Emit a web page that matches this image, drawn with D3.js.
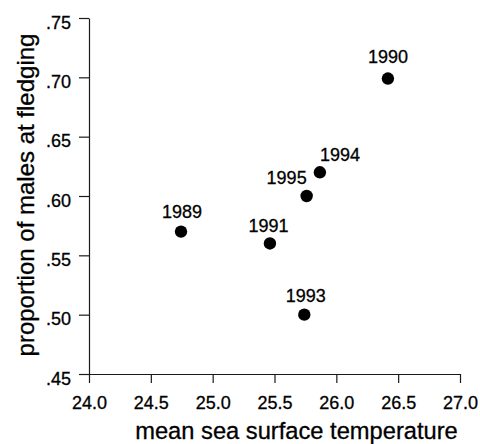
<!DOCTYPE html>
<html>
<head>
<meta charset="utf-8">
<script src="https://cdn.jsdelivr.net/npm/d3@7"></script>
<style>
  html, body { margin: 0; padding: 0; background: #fff; }
  svg { display: block; font-family: Arial, "Liberation Sans", Helvetica, sans-serif; }
</style>
</head>
<body>
<svg id="chart" width="480" height="444"></svg>
<script>
// ---- data ----
const years = ["1989", "1990", "1991", "1993", "1994", "1995"];
const sst = [24.744, 26.417, 25.463, 25.741, 25.867, 25.76];
const propMales = [0.57, 0.699, 0.56, 0.50, 0.62, 0.60];
const xTicks = [24.0, 24.5, 25.0, 25.5, 26.0, 26.5, 27.0];
const yTicks = [0.45, 0.50, 0.55, 0.60, 0.65, 0.70, 0.75];
const xTitle = "mean sea surface temperature";
const yTitle = "proportion of males at fledging";

// ---- label layout (per point: anchor, dx, dy) ----
const labelLayout = [
  ["middle", 1, -13.4],
  ["middle", 0, -16],
  ["middle", -1.5, -11.6],
  ["middle", 1.5, -12.3],
  ["start", 0, -11.6],
  ["end", 0, -11.7]
];

const svg = d3.select("#chart");
const mLeft = 89, mRight = 460, mTop = 18, mBottom = 374;

const x = d3.scaleLinear().domain([24, 27]).range([mLeft, mRight]);
const y = d3.scaleLinear().domain([0.45, 0.75]).range([mBottom, mTop]);

const ink = "#1a1a1a";
const fontFam = "Arial, 'Liberation Sans', sans-serif";

// x axis
const xAxis = svg.append("g")
  .attr("transform", `translate(0,${mBottom})`)
  .call(d3.axisBottom(x).tickValues(xTicks).tickFormat(d3.format(".1f")).tickSize(9).tickSizeOuter(0).tickPadding(13.5));
xAxis.select(".domain").attr("stroke", ink).attr("stroke-width", 1.2);
xAxis.selectAll(".tick line").attr("stroke", ink).attr("stroke-width", 1.2);
xAxis.selectAll(".tick text").attr("font-size", 18).attr("fill", "#000")
  .attr("font-family", fontFam).attr("stroke", "#000").attr("stroke-width", 0.3);

// y axis
const yAxis = svg.append("g")
  .attr("transform", `translate(${mLeft},0)`)
  .call(d3.axisLeft(y).tickValues(yTicks).tickFormat(d => d3.format(".2f")(d).replace(/^0/, "")).tickSize(10).tickSizeOuter(0).tickPadding(8));
yAxis.select(".domain").attr("stroke", ink).attr("stroke-width", 1.2);
yAxis.selectAll(".tick line").attr("stroke", ink).attr("stroke-width", 1.2);
yAxis.selectAll(".tick text").attr("font-size", 18).attr("fill", "#000")
  .attr("font-family", fontFam).attr("dy", "10px")
  .attr("stroke", "#000").attr("stroke-width", 0.3);

// axis titles
svg.append("text")
  .attr("x", 296.5)
  .attr("y", 438.5)
  .attr("text-anchor", "middle")
  .attr("font-size", 23.7)
  .attr("fill", "#000")
  .attr("stroke", "#000").attr("stroke-width", 0.3)
  .text(xTitle);

svg.append("text")
  .attr("transform", "translate(34,195) rotate(-90)")
  .attr("text-anchor", "middle")
  .attr("font-size", 24)
  .attr("fill", "#000")
  .attr("stroke", "#000").attr("stroke-width", 0.3)
  .text(yTitle);

// points
const pts = years.map((yr, i) => ({ yr, sx: sst[i], p: propMales[i], lay: labelLayout[i] }));

svg.append("g").selectAll("circle")
  .data(pts).join("circle")
  .attr("cx", d => x(d.sx))
  .attr("cy", d => y(d.p))
  .attr("r", 6.2)
  .attr("fill", "#000");

svg.append("g").selectAll("text")
  .data(pts).join("text")
  .attr("x", d => x(d.sx) + d.lay[1])
  .attr("y", d => y(d.p) + d.lay[2])
  .attr("text-anchor", d => d.lay[0])
  .attr("font-size", 18)
  .attr("font-family", fontFam)
  .attr("fill", "#000")
  .attr("stroke", "#000").attr("stroke-width", 0.3)
  .text(d => d.yr);
</script>
</body>
</html>
